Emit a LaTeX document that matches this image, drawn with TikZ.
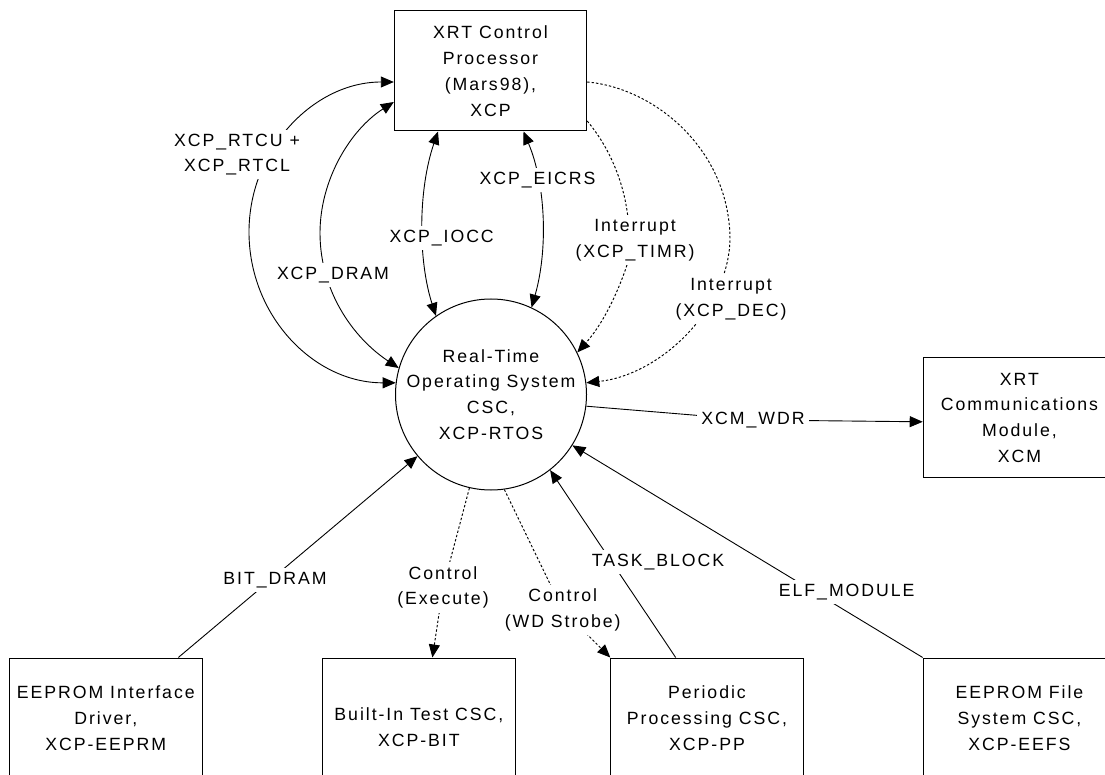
\documentclass[tikz,border=0pt]{standalone}
\usepackage{fontspec}
\setmainfont{Liberation Sans}[LetterSpace=11]
\usetikzlibrary{arrows.meta}

\begin{document}
\begin{tikzpicture}[x=1pt,y=-1pt,
  every node/.style={font=\fontsize{17.7}{25.8}\selectfont, align=center},
  box/.style={draw, line width=1pt, minimum width=192.4pt, minimum height=120pt, inner sep=0pt},
  bubble/.style={circle, draw, line width=1pt, minimum size=191pt, inner sep=0pt},
  conn/.style={line width=0.9pt},
  dots/.style={line width=0.95pt, dash pattern=on 2.4pt off 2pt},
  arr/.style={-{Triangle[length=13pt,width=11pt]}},
  biarr/.style={{Triangle[length=13pt,width=11pt]}-{Triangle[length=13pt,width=11pt]}},
  lbl/.style={fill=white, inner sep=4pt}
]
\useasboundingbox (0,0) rectangle (1105,775);
\clip (0,0) rectangle (1105,775);
\fill[white] (0,0) rectangle (1105,775);

% processes and external modules
\node[box] (xcp) at (490.5,71) {XRT Control\\Processor\\(Mars98),\\XCP};
\node[bubble] (rtos) at (491,394.5) {};
\node (rtostext) at (rtos.center) {Real-Time\\Operating System\\CSC,\\XCP-RTOS};
\node[box] (xcm) at (1019.4,417.8) {XRT\\Communications\\Module,\\XCM};
\node[box] (eeprm) at (105.8,718) {EEPROM Interface\\Driver,\\XCP-EEPRM};
\node[box] (bit) at (418.9,718) {};
\node (bittext) at (418.9,727) {Built-In Test CSC,\\XCP-BIT};
\node[box] (pp) at (707,718) {Periodic\\Processing CSC,\\XCP-PP};
\node[box] (eefs) at (1019.4,718) {EEPROM File\\System CSC,\\XCP-EEFS};

% data flows between the control processor and the RTOS
\draw[conn, biarr] ([yshift=-11]xcp.west) .. controls (314,82) and (249,149) .. (249,232)
  .. controls (249,316) and (314,383) .. (rtos.173);
\draw[conn, biarr] ([yshift=-31]xcp.west) .. controls (350,130) and (320,180) .. (320,233)
  .. controls (320,290) and (352,337) .. (rtos.164);
\draw[conn, biarr] ([xshift=-52.5]xcp.south) .. controls (418,190) and (418,260) .. (rtos.125);
\draw[conn, biarr] ([xshift=33]xcp.south) .. controls (546,185) and (548,250) .. (rtos.65);

% interrupts
\draw[dots, arr] ([yshift=-50]xcp.east) .. controls (620,160) and (635,215) .. (627,265)
  .. controls (617,295) and (602,325) .. (rtos.26);
\draw[dots, arr] ([yshift=-11]xcp.east) .. controls (655,88) and (730,150) .. (730,240)
  .. controls (728,310) and (660,375) .. (rtos.7);

% watchdog reset to the communications module
\coordinate (wdr) at (753,420);
\draw[conn, arr] (rtos.-7) -- (wdr) -- ([yshift=-4]xcm.west);

% flows from and to the lower CSCs
\draw[conn, arr] ([xshift=72.5]eeprm.north) -- (rtos.220);
\coordinate (exe) at (443,587.5);
\draw[dots, arr] (rtos.257) -- (exe) -- ([xshift=13.5]bit.north);
\coordinate (wds) at (562.7,610);
\draw[dots, arr] (rtos.278) -- (wds) -- (pp.north west);
\draw[conn, arr] ([xshift=-31.3]pp.north) -- (rtos.308);
\draw[conn, arr] (eefs.north west) -- (rtos.328);

% flow labels
\node[lbl] (lrtc) at (237,154.5) {XCP\_RTCU +\\XCP\_RTCL};
\node[lbl] (ldram) at (333,275) {XCP\_DRAM};
\node[lbl] (liocc) at (441.7,238) {XCP\_IOCC};
\node[lbl] (leicrs) at (537.5,180) {XCP\_EICRS};
\node[lbl] (ltimr) at (635,240) {Interrupt\\(XCP\_TIMR)};
\node[lbl] (ldec) at (731,299) {Interrupt\\(XCP\_DEC)};
\node[lbl] (lwdr) at (wdr) {XCM\_WDR};
\node[lbl] (lbitd) at (275,580) {BIT\_DRAM};
\node[lbl] (lexe) at (exe) {Control\\(Execute)};
\node[lbl] (lwds) at (wds) {Control\\(WD Strobe)};
\node[lbl] (ltask) at (658,562) {TASK\_BLOCK};
\node[lbl] (lelf) at (846.7,591.7) {ELF\_MODULE};
\end{tikzpicture}
\end{document}
